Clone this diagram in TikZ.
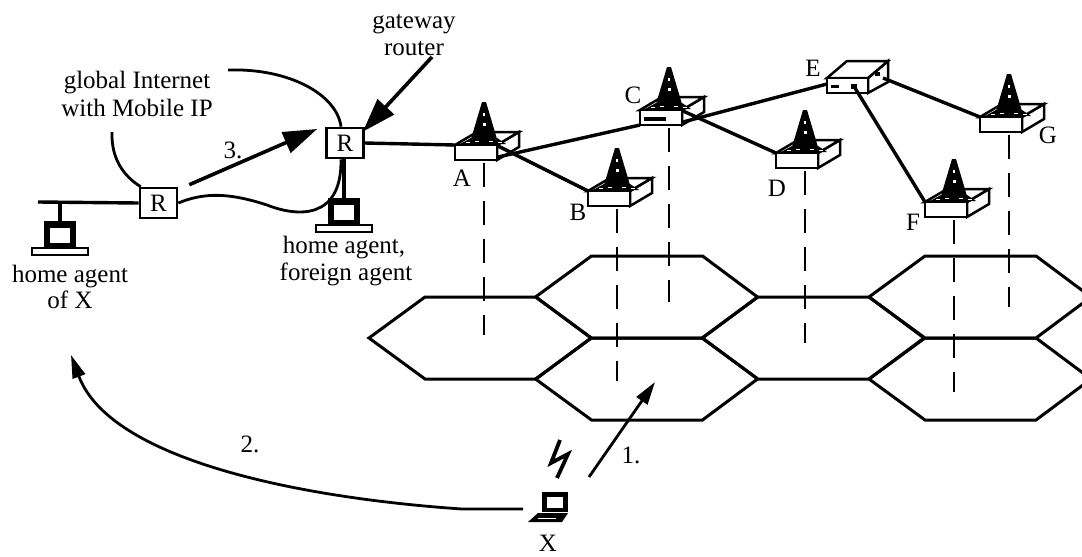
\documentclass[tikz,border=0pt]{standalone}
\usepackage{fontspec}
\setmainfont{Liberation Serif}
\usetikzlibrary{calc,arrows.meta}

\tikzset{
  txt/.style={font=\fontsize{25}{27}\selectfont, inner sep=0pt},
  boxline/.style={line width=2.5pt, line join=miter},
  link/.style={line width=3.4pt},
  cellline/.style={line width=3pt, line join=miter},
  dropline/.style={line width=2.8pt, dash pattern=on 24pt off 14pt},
  cloudline/.style={line width=2.8pt},
  bigarrow/.style={line width=3.6pt, -{Triangle[length=34pt,width=22pt]}},
  thinarrow/.style={line width=2.8pt, -{Triangle[length=23pt,width=13pt]}},
  router/.style={draw, line width=2.6pt, fill=white, minimum width=37pt,
    minimum height=30pt, inner sep=0pt, font=\fontsize{25}{27}\selectfont},
  % hexagonal radio cell
  cell/.pic={
    \draw[cellline] (-111,0) -- (-55,-41) -- (56,-41) -- (111,0)
      -- (56,41) -- (-55,41) -- cycle;
  },
  % base station: box with an antenna tower on top
  station/.pic={
    \draw[boxline, fill=white] (13,0) -- (35,-13) -- (35,-28) -- (13,-15) -- cycle;
    \draw[boxline, fill=white] (-29,-15) -- (-7,-28) -- (35,-28) -- (13,-15) -- cycle;
    \draw[boxline, fill=white] (-29,-15) rectangle (13,0);
    \fill (-2,-58) -- (2,-58) -- (13,-21) -- (-13,-21) -- cycle;
    \fill (-13,-22) -- (13,-22) -- (22,-16) -- (-24,-16) -- cycle;
    \fill[white] (-0.9,-47) rectangle (0.9,-44);
    \fill[white] (-1.5,-37) rectangle (1.5,-34);
    \fill[white] (-9,-19.5) rectangle (-5,-18);
    \fill[white] (5,-19.5) rectangle (9,-18);
    \fill[white] (-18,-18.5) rectangle (-14,-17);
    \fill[white] (14,-18.5) rectangle (18,-17);
    \coordinate (-tl) at (-29,-15);
    \coordinate (-bl) at (-29,0);
    \coordinate (-pt) at (14,-14);
    \coordinate (-pb) at (14,-3);
    \coordinate (-foot) at (0,3);
  },
  % desktop computer: monitor and keyboard slab
  desktop/.pic={
    \fill (-16,0) rectangle (16,26);
    \fill[white] (-10,7) rectangle (10,22);
    \draw[line width=2.6pt, fill=white] (-28,27) rectangle (28,34);
  },
}

\begin{document}
\begin{tikzpicture}[x=1pt,y=-1pt]
\useasboundingbox (0,0) rectangle (1082,557);
\clip (0,0) rectangle (1082,557);

% radio cells
\pic at (480,338) {cell};
\pic at (646.5,297) {cell};
\pic at (646.5,379) {cell};
\pic at (813,338) {cell};
\pic at (980,297) {cell};
\pic at (980,379) {cell};

% base stations
\pic (A) at (484,160) {station};
\pic (B) at (617,206) {station};
\pic (C) at (669,125) {station};
\pic (D) at (805,168) {station};
\pic (F) at (954,217) {station};
\pic (G) at (1009,132) {station};
\fill ([shift={(4,7)}]C-tl) rectangle ++(22,4);

% coverage drops from the stations to their cells
\draw[dropline] (A-foot) -- ++(0,172);
\draw[dropline] (B-foot) -- ++(0,172);
\draw[dropline] (C-foot) -- ++(0,174);
\draw[dropline] (D-foot) -- ++(0,172);
\draw[dropline] (F-foot) -- ++(0,172);
\draw[dropline] (G-foot) -- ++(0,172);

% switch E
\draw[boxline, fill=white] (868,78) -- (888,61) -- (888,82) -- (868,93) -- cycle;
\draw[boxline, fill=white] (827,78) -- (847,61) -- (888,61) -- (868,78) -- cycle;
\draw[boxline, fill=white] (827,78) rectangle (868,93);
\fill (831,85) rectangle (839,88);
\fill (851,84) rectangle (857,89);
\fill (875,72) rectangle (880,76);
\coordinate (E-l) at (827,84);
\coordinate (E-f) at (855,88);
\coordinate (E-p) at (883,78);

% routers
\node[router] (gw) at (345,143) {R};
\node[router] (hr) at (158.5,203) {R};

% wired links between stations
\draw[link] (gw.east) -- (A-tl);
\draw[link] (A-pb) -- (C-bl);
\draw[link] (A-pt) -- (B-tl);
\draw[link] (C-pb) -- (E-l);
\draw[link] (C-pt) -- (D-tl);
\draw[link] (E-f) -- (F-tl);
\draw[link] (E-p) -- (G-tl);

% home network with home agent
\coordinate (lan) at (38,202);
\coordinate (tap) at (60,202);
\draw[link] (lan) -- (hr.west);
\pic (ha) at (60,221) {desktop};
\coordinate (haTop) at (60,221);
\draw[link] (tap) -- (haTop);

% agent attached to the gateway router
\pic (fa) at (344,198) {desktop};
\coordinate (faTop) at (344,198);
\draw[link] (gw.south -| faTop) -- (faTop);

% outline of the global Internet
\coordinate (cl1) at (112,132);
\coordinate (cl2) at (228,70);
\draw[cloudline] (cl1) .. controls (111,160) and (125,177) .. ([xshift=2pt]hr.north west);
\draw[cloudline] (cl2) .. controls (290,68) and (337,95) .. ([xshift=-4pt]gw.north);
\draw[cloudline] (hr.east) .. controls (205,192) and (230,193) .. (267,205)
  .. controls (300,218) and (342,218) .. ([xshift=-4pt]gw.south);

% mobile node X
\fill (542,492) rectangle (568,512);
\fill[white] (547,497) rectangle (563,508);
\fill (528,522) -- (538,513) -- (568,513) -- (562,522) -- cycle;
\draw[white, line width=1pt] (538,518.5) -- (556,518.5);
\coordinate (X-l) at (523,509);
\draw[line width=3.8pt, line join=miter] (560,440) -- (551,463) -- (568,454) -- (557,478);

% arrows
\coordinate (gwLbl) at (432,57);
\draw[bigarrow] (gwLbl) -- ([shift={(-2pt,-5pt)}]gw.north east);
\draw[bigarrow] ([shift={(11pt,2pt)}]hr.north east) -- ([shift={(-8pt,14pt)}]gw.west);
\coordinate (m1s) at (589,477);
\coordinate (m1e) at (655,382);
\draw[thinarrow] (m1s) -- (m1e);
\coordinate (m2m) at (462,509);
\coordinate (m2e) at (71,355);
\draw[thinarrow] (X-l) -- (m2m) .. controls (300,498) and (110,460) .. (m2e);

% texts
\node[txt, anchor=base] (t1) at (137,88) {global Internet};
\node[txt, anchor=base] (t2) at (137,116) {with Mobile IP};
\node[txt, anchor=base] (t3) at (414,28) {gateway};
\node[txt, anchor=base] (t4) at (414,55) {router};
\node[txt] (t5) at (233,150) {3.};
\node[txt, anchor=base] (t6) at (344,253) {home agent,};
\node[txt, anchor=base] (t7) at (346,280) {foreign agent};
\node[txt, anchor=base] (t8) at (70,282) {home agent};
\node[txt, anchor=base] (t9) at (70,308) {of X};
\node[txt] (lA) at (462,178) {A};
\node[txt] (lB) at (578,212) {B};
\node[txt] (lC) at (633,95) {C};
\node[txt] (lD) at (777,188) {D};
\node[txt] (lE) at (813,68) {E};
\node[txt] (lF) at (913,222) {F};
\node[txt] (lG) at (1048,135) {G};
\node[txt] (l1) at (631,455) {1.};
\node[txt] (l2) at (250,444) {2.};
\node[txt] (lX) at (548,543) {X};
\end{tikzpicture}
\end{document}
